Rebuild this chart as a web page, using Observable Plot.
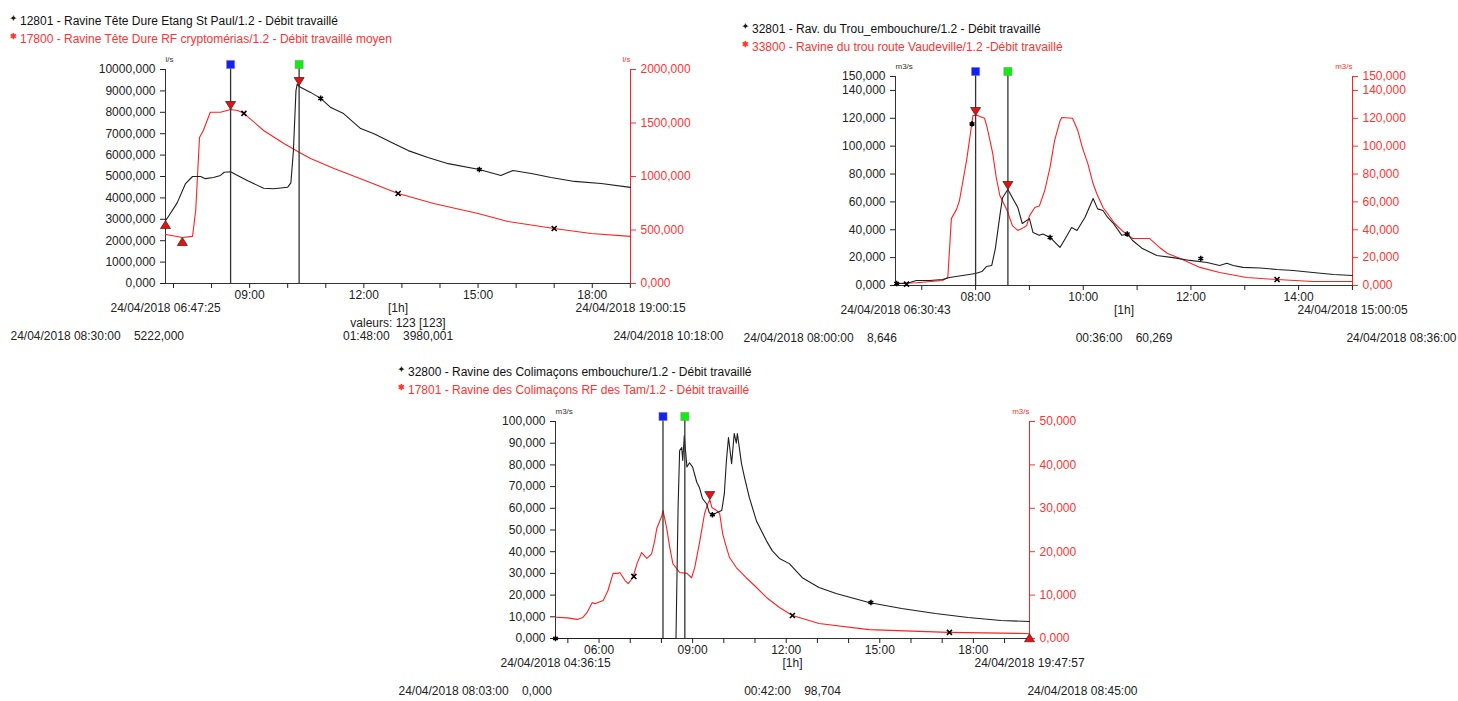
<!DOCTYPE html>
<html><head><meta charset="utf-8">
<script src="https://cdn.jsdelivr.net/npm/d3@7"></script>
<script src="https://cdn.jsdelivr.net/npm/@observablehq/plot@0.6"></script>
<style>
body{margin:0;background:#fff;font-family:"Liberation Sans",Arial,sans-serif;}
#root{position:relative;width:1458px;height:701px;overflow:hidden;}
.legend{position:absolute;font-size:12px;line-height:15px;white-space:nowrap;color:#111;}
.legend .mk{display:inline-block;width:10px;font-size:8px;font-weight:bold;vertical-align:4px;}
.legend .r{color:#ff3333;}
.panel{position:absolute;}
.panel svg{overflow:visible;}
</style></head><body><div id="root"></div>
<script>
// ---------------- Panel 1 ----------------
const p1Legend = ["12801 - Ravine Tête Dure Etang St Paul/1.2 - Débit travaillé",
                  "17800 - Ravine Tête Dure RF cryptomérias/1.2 - Débit travaillé moyen"];
const p1Range = ["06:47:25", "19:00:15"];
const p1Units = ["l/s", "l/s"];
const p1YTicks = [0,1000,2000,3000,4000,5000,6000,7000,8000,9000,10000];
const p1RTicks = [0,500,1000,1500,2000];
const p1BlackT = ["06:47:25","06:52","07:06","07:19","07:30","07:43","07:50","08:03","08:14","08:20","08:30","08:41","08:57","09:22","09:38","10:00","10:05","10:09","10:13","10:15","10:18","10:36","10:52","11:08","11:28","11:55","12:16","12:47","13:10","13:41","14:13","15:02","15:36","15:55","16:24","16:55","17:32","18:14","19:00:15"];
const p1BlackV = [2940,3130,3780,4670,5000,5000,4900,4950,5050,5200,5222,5050,4800,4450,4430,4500,4700,6200,9000,9320,9202,8930,8650,8220,7940,7240,7000,6540,6210,5890,5600,5330,5050,5280,5140,4950,4770,4670,4490];
const p1RedT = ["06:47:25","07:06","07:14","07:30","07:35","07:41","07:47","07:58","08:14","08:30","08:41","08:51","09:22","09:54","10:20","10:36","11:13","12:06","12:54","13:50","15:00","15:47","17:00","17:58","19:00:15"];
const p1RedV = [458,440,430,440,682,1364,1430,1600,1600,1626,1617,1590,1430,1308,1220,1168,1075,953,841,748,654,580,514,467,440];
const p1Cursors = ["08:30", "10:18"];
const p1TriDown = [["08:30","r",1626],["10:18","b",9250]];
const p1TriUp = [["06:47:25","b",2940],["07:14","r",430]];
const p1StarsB = [["10:52",8650],["15:02",5330]];
const p1StarsR = [["08:51",1590],["12:54",841],["17:00",514]];
const p1Texts = {start:"24/04/2018 06:47:25", end:"24/04/2018 19:00:15",
  center:["[1h]","valeurs: 123 [123]","01:48:00\u00a0\u00a0\u00a0\u00a03980,001"],
  left:"24/04/2018 08:30:00\u00a0\u00a0\u00a0\u00a05222,000", right:"24/04/2018 10:18:00"};

// ---------------- Panel 2 ----------------
const p2Legend = ["32801 - Rav. du Trou_embouchure/1.2 - Débit travaillé",
                  "33800 - Ravine du trou route Vaudeville/1.2 -Débit travaillé"];
const p2Range = ["06:30:43", "15:00:05"];
const p2Units = ["m3/s", "m3/s"];
const p2YTicks = [0,20,40,60,80,100,120,140,150];
const p2RTicks = [0,20,40,60,80,100,120,140,150];
const p2BlackT = ["06:30:43","06:43","06:54","07:09","07:23","07:31","08:00","08:07","08:12","08:18","08:22","08:27","08:30","08:36","08:41","08:47","08:52","09:00","09:04","09:11","09:15","09:23","09:34","09:40","09:47","09:53","10:02","10:11","10:16","10:22","10:27","10:33","10:43","10:49","10:55","11:06","11:22","11:40","11:59","12:18","12:32","12:40","12:47","12:58","13:17","13:36","13:54","14:16","14:39","15:00:05"];
const p2BlackV = [1.4,1.4,3.6,3.6,4.3,5.7,8.646,10,13.6,14.4,26.5,50,63,68.9,63,56,44.5,48,38,36,37,34.5,27.3,33.7,41.6,39.5,49,62.4,55,53.8,49,45,36,37,32.3,26.5,21.5,20,18,16.5,14.4,16,14.4,13,12.6,11.5,10.8,9.3,7.9,7.2];
const p2RedT = ["06:30:43","06:54","07:23","07:29","07:33","07:39","07:42","07:50","07:57","08:02","08:10","08:13","08:19","08:23","08:27","08:35","08:41","08:47","08:52","08:57","09:00","09:06","09:11","09:17","09:23","09:28","09:34","09:36","09:48","09:54","09:59","10:05","10:11","10:15","10:22","10:27","10:35","10:43","10:55","11:14","11:25","11:34","11:48","12:10","12:32","13:02","13:36","14:16","15:00:05"];
const p2RedV = [1.4,2,3.6,5.7,48,55,61,90,122,122,120,113,95,77.5,64.6,54,43,39.5,41,43,50,56,57,68,85,104,118,120.6,120,111,99,87.6,73,66,56,51.7,44.5,39.5,33.7,33.7,27.3,23,19.4,13,9.3,5.7,4.3,2.9,2.9];
const p2Cursors = ["08:00", "08:36"];
const p2TriDown = [["08:00","r",122],["08:36","b",68.9]];
const p2TriUp = [];
const p2StarsB = [["06:32",1.4],["07:56",116],["09:23",34.5],["10:49",37],["12:11",19.4]];
const p2StarsR = [["06:43",1.0],["13:36",4.3]];
const p2Texts = {start:"24/04/2018 06:30:43", end:"24/04/2018 15:00:05",
  center:["[1h]", null, "00:36:00\u00a0\u00a0\u00a0\u00a060,269"],
  left:"24/04/2018 08:00:00\u00a0\u00a0\u00a0\u00a08,646", right:"24/04/2018 08:36:00"};

// ---------------- Panel 3 ----------------
const p3Legend = ["32800 - Ravine des Colimaçons embouchure/1.2 - Débit travaillé",
                  "17801 - Ravine des Colimaçons RF des Tam/1.2 - Débit travaillé"];
const p3Range = ["04:36:15", "19:47:57"];
const p3Units = ["m3/s", "m3/s"];
const p3YTicks = [0,10,20,30,40,50,60,70,80,90,100];
const p3RTicks = [0,10,20,30,40,50];
const p3BlackT = ["04:36:15","08:28","08:32","08:35","08:39","08:41","08:44","08:49","08:54","09:00","09:08","09:13","09:19","09:27","09:32","09:38","09:46","09:56","10:01","10:05","10:09","10:15","10:20","10:24","10:26","10:34","10:40","10:49","11:03","11:22","11:33","11:47","12:06","12:31","13:03","13:36","14:39","15:42","16:47","17:50","18:53","19:47:57"];
const p3BlackV = [0,0,60,86.6,88,82,93.5,79,81,79,72,69.6,64.5,62,58,56.7,58,59,66.8,82,92.6,80.6,94.5,90,94.5,80.6,74,65,54,45,40.5,36.9,34.5,28,23.5,20.7,16.6,13.8,11.5,9.7,8.3,7.8];
const p3RedT = ["04:36:15","04:59","05:18","05:29","05:37","05:47","05:52","06:08","06:17","06:27","06:36","06:40","06:50","06:56","07:05","07:13","07:22","07:32","07:41","07:47","07:51","08:01","08:03","08:10","08:16","08:22","08:35","08:49","08:58","09:04","09:13","09:23","09:29","09:33","09:37","09:46","09:52","09:58","10:05","10:11","10:24","10:43","11:03","11:22","11:47","12:12","13:03","14:39","17:12","19:41","19:47:57"];
const p3RedV = [4.9,4.75,4.4,4.85,6,8.3,8,8.75,11,15,15,15.2,13.35,12.65,14,17.25,19.8,18.45,19.5,22.5,25.35,28.35,29.5,25.5,21,17.25,15.2,15,14,16.35,21.9,28.8,31,32,30.2,29.5,28.8,24,21,18.65,16.35,14,11.75,9.45,7.15,5.3,3.45,2.05,1.4,1.15,1.1];
const p3Cursors = ["08:03", "08:45"];
const p3TriDown = [["09:33","r",32]];
const p3TriUp = [["19:47:57","r",1.1]];
const p3StarsB = [["04:36:15",0],["09:38",57],["14:43",16.6]];
const p3StarsR = [["07:07",14.3],["12:12",5.3],["17:14",1.4]];
const p3Texts = {start:"24/04/2018 04:36:15", end:"24/04/2018 19:47:57",
  center:["[1h]", null, "00:42:00\u00a0\u00a0\u00a0\u00a098,704"],
  left:"24/04/2018 08:03:00\u00a0\u00a0\u00a0\u00a00,000", right:"24/04/2018 08:45:00"};

// ---------------- drawing ----------------
const RED = "#ff2020", RED_TXT = "#ff3333", INK = "#222", LINE = "#1e1e1e";
const CURSOR_COLORS = ["#1020ff", "#10ee10"];
function T(s){const [h,m,x]=s.split(":").map(Number);return new Date(Date.UTC(2018,3,24,h,m,x||0));}
const zip = (a,b) => a.map((d,i)=>[d,b[i]]);
const fmtN = v => (Math.round(v*1000)/1000).toFixed(3).replace(".", ",");
const fmtH = d3.utcFormat("%H:%M");
const triDownSym = {draw(ctx){ctx.moveTo(0,0);ctx.lineTo(-5,-8);ctx.lineTo(5,-8);ctx.closePath();}};
const triUpSym = {draw(ctx){ctx.moveTo(0,0);ctx.lineTo(-5,8);ctx.lineTo(5,8);ctx.closePath();}};

function makePanel(c){
  const k = c.yMax / c.rMax;
  const t0 = T(c.range[0]), t1 = T(c.range[1]);
  const black = zip(c.bT, c.bV).map(([t,v])=>({t:T(t), v}));
  const red = zip(c.rT, c.rV).map(([t,v])=>({t:T(t), v:v*k}));
  const hours = d3.utcHour.range(d3.utcHour.ceil(t0), new Date(+t1+1));
  const conv = ([t,s,v]) => ({t:T(t), v: s==="r" ? v*k : v});
  const marks = [
    Plot.ruleY([0], {stroke:"#333"}),
    Plot.ruleX([t0], {stroke:"#333"}),
    Plot.ruleX([t1], {stroke:RED}),
    Plot.axisY({ticks:c.yTicks, tickFormat:fmtN, tickSize:5, tickPadding:5, label:null, color:INK}),
    Plot.axisY({anchor:"right", ticks:c.rTicks.map(v=>v*k), tickFormat:v=>fmtN(v/k), tickSize:5, tickPadding:5, label:null, color:RED_TXT}),
    Plot.axisX({ticks:hours, tickFormat:d=> d.getUTCHours()%c.every===0 ? fmtH(d) : "", tickSize:5, tickPadding:2, label:null, color:INK}),
    Plot.line(red, {x:"t", y:"v", stroke:RED, strokeWidth:1.1}),
    Plot.line(black, {x:"t", y:"v", stroke:LINE, strokeWidth:1.1}),
  ];
  c.cursors.forEach((t,i)=>{
    marks.push(Plot.ruleX([T(t)], {y1:c.yMax, y2:0, insetTop:-5, stroke:"#333", strokeWidth:1.3}));
    marks.push(Plot.dot([T(t)], {x:d=>d, y:()=>c.yMax, dy:-5, symbol:"square", r:4.6, fill:CURSOR_COLORS[i], stroke:"#888", strokeWidth:0.5}));
  });
  marks.push(Plot.dot(c.triDown.map(conv), {x:"t", y:"v", symbol:triDownSym, fill:"#e81010", stroke:"#552222", strokeWidth:0.8}));
  marks.push(Plot.dot(c.triUp.map(conv), {x:"t", y:"v", symbol:triUpSym, fill:"#e81010", stroke:"#552222", strokeWidth:0.8}));
  marks.push(Plot.dot(c.starsB.map(([t,v])=>({t:T(t),v})), {x:"t", y:"v", symbol:"asterisk", r:2.6, stroke:"#000", strokeWidth:1.5}));
  marks.push(Plot.dot(c.starsR.map(([t,v])=>({t:T(t),v:v*k})), {x:"t", y:"v", symbol:"times", r:2.4, stroke:"#000", strokeWidth:1.6}));
  marks.push(Plot.text([c.units[0]], {text:d=>d, frameAnchor:"top-left", dy:-13, textAnchor:"start", fontSize:8, fill:"#333"}));
  marks.push(Plot.text([c.units[1]], {text:d=>d, frameAnchor:"top-right", dy:-13, textAnchor:"end", fontSize:8, fill:RED_TXT}));
  marks.push(Plot.text([c.texts.start], {text:d=>d, frameAnchor:"bottom-left", dy:28, textAnchor:"middle", fontSize:12, fill:INK}));
  marks.push(Plot.text([c.texts.end], {text:d=>d, frameAnchor:"bottom-right", dy:28, textAnchor:"middle", fontSize:12, fill:INK}));
  const cdy = [28, 43, 56];
  c.texts.center.forEach((s,i)=>{ if (s) marks.push(Plot.text([s], {text:d=>d, frameAnchor:"bottom", dy:cdy[i], textAnchor:"middle", fontSize:12, fill:INK})); });
  marks.push(Plot.text([c.texts.left], {text:d=>d, frameAnchor:"bottom-left", dx:c.leftDx, dy:56, textAnchor:"start", fontSize:12, fill:INK}));
  marks.push(Plot.text([c.texts.right], {text:d=>d, frameAnchor:"bottom-right", dx:c.rightDx, dy:56, textAnchor:"end", fontSize:12, fill:INK}));

  const svg = Plot.plot({
    width:c.width, height:c.height,
    marginLeft:c.m[0], marginRight:c.m[1], marginTop:c.m[2], marginBottom:c.m[3],
    x:{type:"utc", domain:[t0,t1]},
    y:{domain:[0,c.yMax]},
    style:{fontFamily:"'Liberation Sans', Arial, sans-serif", fontSize:"12px", background:"transparent", overflow:"visible"},
    marks
  });
  const div = document.createElement("div");
  div.className = "panel";
  div.style.left = c.left + "px"; div.style.top = c.top + "px";
  div.style.width = c.width + "px"; div.style.height = c.height + "px";
  div.appendChild(svg);
  root.appendChild(div);

  const lg = document.createElement("div");
  lg.className = "legend";
  lg.style.left = c.legendPos[0] + "px"; lg.style.top = c.legendPos[1] + "px";
  lg.innerHTML = `<div><span class="mk">✦</span>${c.legend[0]}</div><div class="r"><span class="mk">✱</span>${c.legend[1]}</div>`;
  root.appendChild(lg);
}
const root = document.getElementById("root");

makePanel({left:0, top:40, width:740, height:320, m:[165,110,29,77],
  range:p1Range, yMax:10000, rMax:2000, yTicks:p1YTicks, rTicks:p1RTicks, every:3,
  bT:p1BlackT, bV:p1BlackV, rT:p1RedT, rV:p1RedV, cursors:p1Cursors,
  triDown:p1TriDown, triUp:p1TriUp, starsB:p1StarsB, starsR:p1StarsR, units:p1Units,
  texts:p1Texts, leftDx:-155, rightDx:93, legend:p1Legend, legendPos:[10,11]});

makePanel({left:740, top:40, width:718, height:320, m:[155,106,36,75],
  range:p2Range, yMax:150, rMax:150, yTicks:p2YTicks, rTicks:p2RTicks, every:2,
  bT:p2BlackT, bV:p2BlackV, rT:p2RedT, rV:p2RedV, cursors:p2Cursors,
  triDown:p2TriDown, triUp:p2TriUp, starsB:p2StarsB, starsR:p2StarsR, units:p2Units,
  texts:p2Texts, leftDx:-152, rightDx:104, legend:p2Legend, legendPos:[742,19]});

makePanel({left:380, top:390, width:760, height:310, m:[175,111,31,62],
  range:p3Range, yMax:100, rMax:50, yTicks:p3YTicks, rTicks:p3RTicks, every:3,
  bT:p3BlackT, bV:p3BlackV, rT:p3RedT, rV:p3RedV, cursors:p3Cursors,
  triDown:p3TriDown, triUp:p3TriUp, starsB:p3StarsB, starsR:p3StarsR, units:p3Units,
  texts:p3Texts, leftDx:-157, rightDx:108, legend:p3Legend, legendPos:[398,362]});
</script>
</body></html>
